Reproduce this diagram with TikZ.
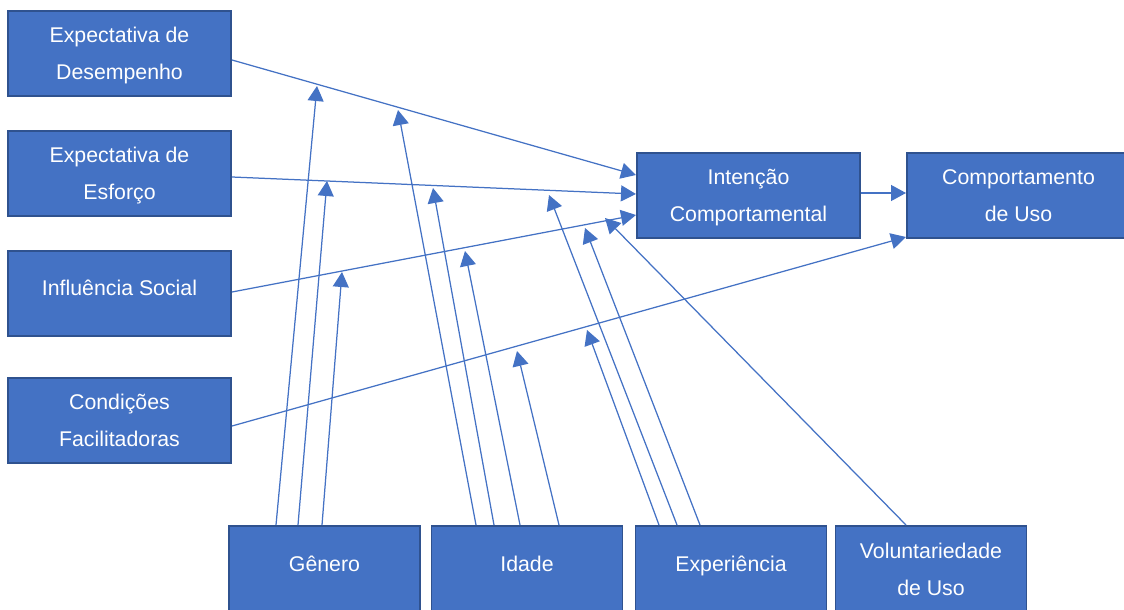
\documentclass[tikz,border=0pt]{standalone}
\usepackage{fontspec}
\setmainfont{Liberation Sans}
\usetikzlibrary{arrows.meta}

\definecolor{boxfill}{HTML}{4472C4}
\definecolor{boxline}{HTML}{2F528F}
\definecolor{wire}{HTML}{4472C4}

\begin{document}
\begin{tikzpicture}[x=1pt, y=-1pt,
  box/.style={draw=boxline, fill=boxfill, line width=1.8pt, rectangle,
    inner sep=0pt, outer sep=0pt, minimum width=223pt, minimum height=85pt},
  lowbox/.style={box, minimum width=191pt, minimum height=86pt},
  % base anchor of a two-line text is the baseline of its last line
  label2/.style={text=white, align=center, anchor=base, inner sep=0pt,
    font=\fontsize{21.3}{37}\selectfont, yshift=-26pt},
  label1/.style={label2, yshift=24pt},
  link/.style={draw=wire, line width=1.25pt, -{Triangle[length=15pt, width=16pt]}}]

\useasboundingbox (0,0) rectangle (1124,610);
\clip (0,0) rectangle (1124,610);

% constructs on the left
\node[box] (ed) at (119.5,53.5) {};
\node[box] (ee) at (119.5,173.5) {};
\node[box] (is) at (119.5,293.5) {};
\node[box] (cf) at (119.5,420.5) {};
% intention and behaviour
\node[box] (ic) at (748.5,195.5) {};
\node[box] (cu) at (1018.5,195.5) {};
% moderators along the bottom
\node[lowbox] (ge) at (324.5,569) {};
\node[lowbox] (id) at (527,569) {};
\node[lowbox] (ex) at (731,569) {};
\node[lowbox] (vo) at (931,569) {};

% box texts
\node[label2] (ed-t) at (ed.center) {Expectativa de\\Desempenho};
\node[label2] (ee-t) at (ee.center) {Expectativa de\\Esforço};
\node[label1] (is-t) at (is.center) {Influência Social};
\node[label2] (cf-t) at (cf.center) {Condições\\Facilitadoras};
\node[label2] (ic-t) at (ic.center) {Intenção\\Comportamental};
\node[label2] (cu-t) at (cu.center) {Comportamento\\de Uso};
\node[label1] (ge-t) at (ge.center) {Gênero};
\node[label1] (id-t) at (id.center) {Idade};
\node[label1] (ex-t) at (ex.center) {Experiência};
\node[label2] (vo-t) at (vo.center) {Voluntariedade\\de Uso};

% ports of the main paths
\coordinate (ed-o) at (232,60);
\coordinate (ee-o) at (232,177);
\coordinate (is-o) at (232,292);
\coordinate (cf-o) at (232,426);
\coordinate (ic-a) at (636,175);
\coordinate (ic-b) at (636,194);
\coordinate (ic-c) at (636,215);
\coordinate (ic-o) at (861,193);
\coordinate (cu-a) at (906,193);
\coordinate (cu-b) at (906,237);

% main paths
\draw[link] (ed-o) -- (ic-a);
\draw[link] (ee-o) -- (ic-b);
\draw[link] (is-o) -- (ic-c);
\draw[link] (cf-o) -- (cu-b);
\draw[link] (ic-o) -- (cu-a);

% moderator start points on the top edges
\coordinate (ge-1) at (276,525);
\coordinate (ge-2) at (298,525);
\coordinate (ge-3) at (322,525);
\coordinate (id-1) at (476,525);
\coordinate (id-2) at (494,525);
\coordinate (id-3) at (520,525);
\coordinate (id-4) at (559,525);
\coordinate (ex-1) at (659,525);
\coordinate (ex-2) at (677,525);
\coordinate (ex-3) at (700,525);
\coordinate (vo-1) at (906,525);

% moderator targets on the main paths
\coordinate (ge-t1) at (317,86);
\coordinate (ge-t2) at (327,181);
\coordinate (ge-t3) at (342,272);
\coordinate (id-t1) at (398,110);
\coordinate (id-t2) at (433,188);
\coordinate (id-t3) at (465,251);
\coordinate (id-t4) at (517,351);
\coordinate (ex-t1) at (587,330);
\coordinate (ex-t2) at (549,195);
\coordinate (ex-t3) at (585,228);
\coordinate (vo-t1) at (605,218);

% moderating effects
\draw[link] (ge-1) -- (ge-t1);
\draw[link] (ge-2) -- (ge-t2);
\draw[link] (ge-3) -- (ge-t3);
\draw[link] (id-1) -- (id-t1);
\draw[link] (id-2) -- (id-t2);
\draw[link] (id-3) -- (id-t3);
\draw[link] (id-4) -- (id-t4);
\draw[link] (ex-1) -- (ex-t1);
\draw[link] (ex-2) -- (ex-t2);
\draw[link] (ex-3) -- (ex-t3);
\draw[link] (vo-1) -- (vo-t1);
\end{tikzpicture}
\end{document}
